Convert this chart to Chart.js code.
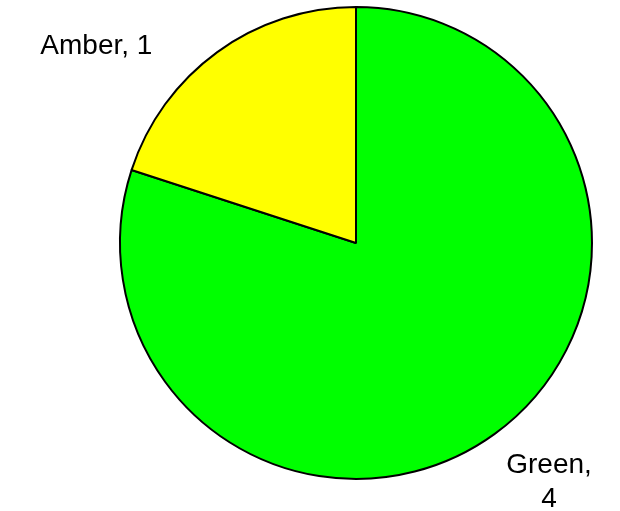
<!DOCTYPE html>
<html>
<head>
<meta charset="utf-8">
<script src="https://cdn.jsdelivr.net/npm/chart.js@4.4.0/dist/chart.umd.min.js"></script>
<style>
html,body{margin:0;padding:0;background:#fff;}
#wrap{width:620px;height:511px;position:relative;}
</style>
</head>
<body>
<div id="wrap"><canvas id="c" width="620" height="511"></canvas></div>
<script>
const categories = ["Green", "Amber"];
const values = [4, 1];
const colors = ["#00FF00", "#FFFF00"];

const labelPlugin = {
  id: 'sliceLabels',
  afterDatasetsDraw(chart) {
    const ctx = chart.ctx;
    const arcs = chart.getDatasetMeta(0).data;
    const cx = arcs[0].x, cy = arcs[0].y, r = arcs[0].outerRadius;
    ctx.save();
    ctx.fillStyle = '#000';
    ctx.font = '28px "Liberation Sans", Arial, sans-serif';
    ctx.textAlign = 'center';
    ctx.textBaseline = 'alphabetic';
    // Green label (two lines) bottom-right
    ctx.fillText(categories[0] + ',', cx + r * 0.818, cy + r * 0.976);
    ctx.fillText(String(values[0]), cx + r * 0.818, cy + r * 1.12);
    // Amber label top-left
    ctx.fillText(categories[1] + ', ' + values[1], cx - r * 1.10, cy - r * 0.80);
    ctx.restore();
  }
};

new Chart(document.getElementById('c'), {
  type: 'pie',
  data: {
    labels: categories,
    datasets: [{
      data: values,
      backgroundColor: colors,
      borderColor: '#000',
      borderWidth: 2
    }]
  },
  options: {
    responsive: false,
    animation: false,
    layout: { padding: { left: 119, right: 27, top: 6, bottom: 31 } },
    plugins: { legend: { display: false }, tooltip: { enabled: false } }
  },
  plugins: [labelPlugin]
});
</script>
</body>
</html>
